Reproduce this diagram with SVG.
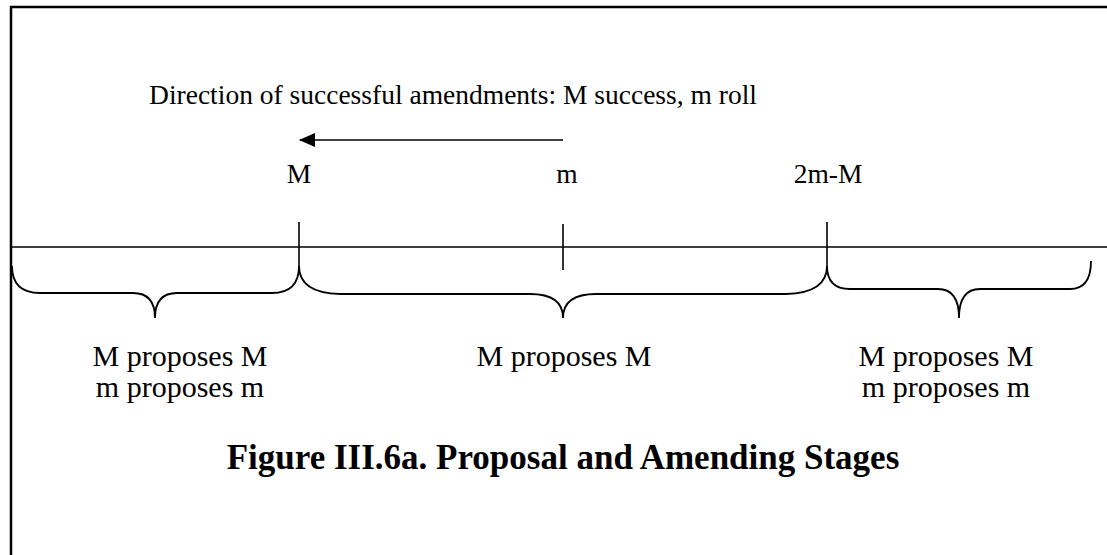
<svg xmlns="http://www.w3.org/2000/svg" width="1107" height="555" viewBox="0 0 1107 555">
  <defs>
    <marker id="arrowhead" markerWidth="16" markerHeight="14" refX="15" refY="7" orient="auto" markerUnits="userSpaceOnUse">
      <path d="M0,0 L16,7 L0,14 Z" fill="#000"/>
    </marker>
    <style>
      .frame { fill: none; stroke: #000; stroke-width: 2.5; }
      .line { fill: none; stroke: #000; stroke-width: 1.6; }
      .brace { fill: none; stroke: #000; stroke-width: 1.8; }
      .lbl { font-family: "Liberation Serif", "Times New Roman", serif; font-size: 27.5px; fill: #000; }
      .big { font-family: "Liberation Serif", "Times New Roman", serif; font-size: 30px; fill: #000; text-anchor: middle; }
      .mid { text-anchor: middle; }
      .title { font-family: "Liberation Serif", "Times New Roman", serif; font-size: 35px; font-weight: bold; fill: #000; text-anchor: middle; }
    </style>
  </defs>
  <rect width="1107" height="555" fill="#fff"/>

  <!-- frame -->
  <path class="frame" d="M11,555 L11,7 L1107,7"/>

  <!-- heading above the axis -->
  <text class="lbl" x="453" y="104" text-anchor="middle">Direction of successful amendments: M success, m roll</text>

  <g id="connectors">
    <!-- direction arrow from m toward M -->
    <line class="line" x1="563" y1="140" x2="300" y2="140" marker-end="url(#arrowhead)"/>
    <!-- policy axis -->
    <line class="line" x1="11" y1="247" x2="1107" y2="247"/>
    <!-- ticks -->
    <line class="line" x1="299" y1="222" x2="299" y2="270"/>
    <line class="line" x1="563" y1="224" x2="563" y2="270"/>
    <line class="line" x1="827" y1="222" x2="827" y2="270"/>
  </g>

  <g id="point-M">
    <text class="lbl mid" x="299" y="183">M</text>
  </g>
  <g id="point-m">
    <text class="lbl mid" x="567" y="183">m</text>
  </g>
  <g id="point-2m-M">
    <text class="lbl mid" x="828" y="183">2m-M</text>
  </g>

  <g id="region-left">
    <path class="brace" d="M12,266 Q12,293 40,293 L133,293 Q155,293 155,318 Q155,293 177,293 L272,293 Q299,293 299,266"/>
    <text class="big" x="180" y="366">M proposes M</text>
    <text class="big" x="180" y="397">m proposes m</text>
  </g>

  <g id="region-middle">
    <path class="brace" d="M299,266 Q299,293 340,294 L530,294 Q563,294 563,318 Q563,294 596,294 L786,294 Q827,293 827,266"/>
    <text class="big" x="564" y="366">M proposes M</text>
  </g>

  <g id="region-right">
    <path class="brace" d="M827,266 Q827,289 850,289 L938,289 Q959,289 959,318 Q959,289 980,289 L1070,289 Q1091,289 1091,261"/>
    <text class="big" x="946" y="366">M proposes M</text>
    <text class="big" x="946" y="397">m proposes m</text>
  </g>

  <text class="title" x="563" y="469">Figure III.6a. Proposal and Amending Stages</text>
</svg>
